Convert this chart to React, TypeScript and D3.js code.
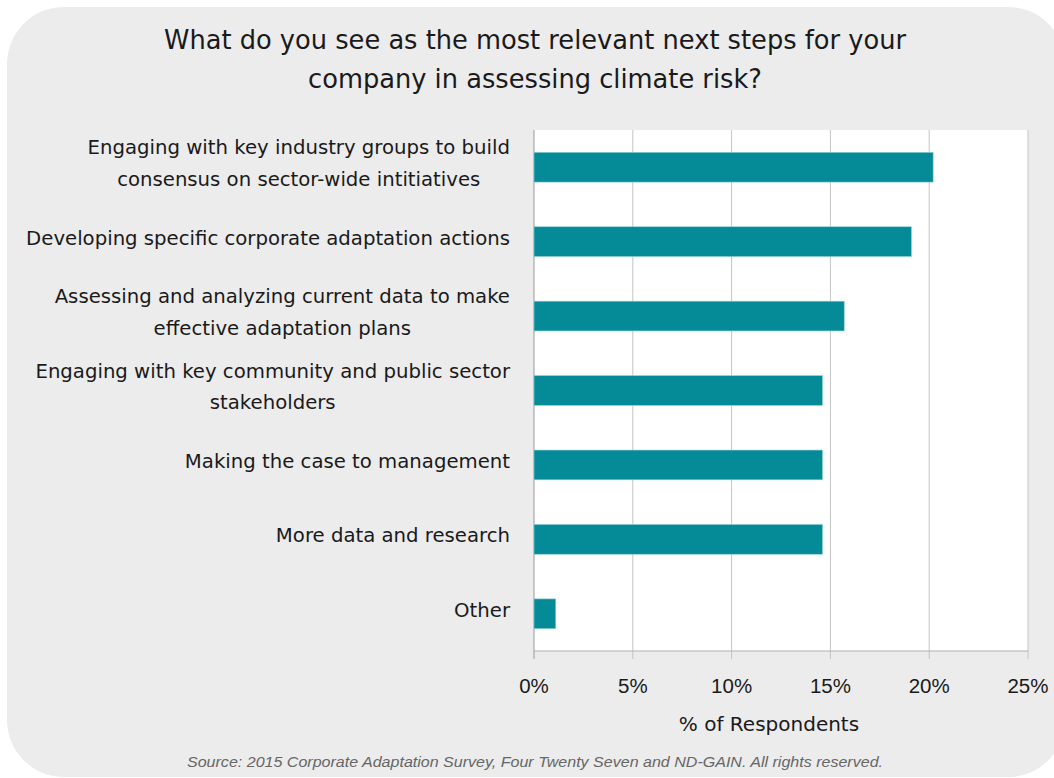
import React from "react";
import * as d3 from "d3";

const categories: string[][] = [
  ["Engaging with key industry groups to build", "consensus on sector-wide intitiatives"],
  ["Developing specific corporate adaptation actions"],
  ["Assessing and analyzing current data to make", "effective adaptation plans"],
  ["Engaging with key community and public sector", "stakeholders"],
  ["Making the case to management"],
  ["More data and research"],
  ["Other"],
];
const values: number[] = [20.2, 19.1, 15.7, 14.6, 14.6, 14.6, 1.1];
const ticks: number[] = [0, 5, 10, 15, 20, 25];
const titleLines: string[] = [
  "What do you see as the most relevant next steps for your",
  "company in assessing climate risk?",
];
const xTitle = "% of Respondents";
const source = "Source: 2015 Corporate Adaptation Survey, Four Twenty Seven and ND-GAIN. All rights reserved.";

const W = 1054, H = 778;
const left = 534, right = 1028, top = 130, bottom = 651;

export default function App() {
  const x = d3.scaleLinear().domain([0, 25]).range([left, right]);
  const y = d3.scaleBand<number>().domain(d3.range(categories.length)).range([top, bottom]).paddingInner(0.6).paddingOuter(0.3);
  const band = d3.scaleBand<number>().domain(d3.range(categories.length)).range([top, bottom]);
  const font = "'DejaVu Sans', sans-serif";
  return (
    <svg width={W} height={H} style={{ position: "absolute", left: 0, top: 0 }}>
      <rect x={7} y={7} width={1058} height={770} rx={57} ry={57} fill="#ececec" />
      <rect x={left} y={top} width={right - left} height={bottom - top} fill="#ffffff" />
      {ticks.map((t) => (
        <line key={t} x1={x(t)} x2={x(t)} y1={top} y2={bottom + 8} stroke={t === 0 ? "#999" : "#c4c4c4"} strokeWidth={1} />
      ))}
      <line x1={left} x2={right} y1={bottom} y2={bottom} stroke="#b0b0b0" strokeWidth={1} />
      {values.map((v, i) => (
        <rect key={i} x={x(0)} y={y(i)} width={x(v) - x(0)} height={y.bandwidth()} fill="#058a97" stroke="#8fcfd6" strokeWidth={0.6} />
      ))}
      {categories.map((lines, i) => {
        const cy = (band(i) as number) + band.bandwidth() / 2 - 4;
        const lh = 31.5;
        return (
          <text key={i} fontFamily={font} fontSize={19.7} fill="#1a1a1a" textAnchor="middle">
            {lines.map((l, j) => (
              <tspan key={j} x={0} y={cy + (j - (lines.length - 1) / 2) * lh} dy="0.35em" className="lbl">{l}</tspan>
            ))}
          </text>
        );
      })}
      {ticks.map((t) => (
        <text key={t} x={x(t)} y={693} textAnchor="middle" fontFamily="'Liberation Sans', Arial, sans-serif" fontSize={20.5} fill="#1a1a1a">{t}%</text>
      ))}
      <text x={769} y={731} textAnchor="middle" fontFamily={font} fontSize={20} fill="#1a1a1a">{xTitle}</text>
      {titleLines.map((l, i) => (
        <text key={i} x={535} y={49 + i * 39} textAnchor="middle" fontFamily={font} fontSize={25.7} fill="#1a1a1a">{l}</text>
      ))}
      <text x={535} y={767} textAnchor="middle" fontFamily="'Liberation Sans Narrow', 'Liberation Sans', sans-serif" fontStyle="italic" fontSize={15} textLength={696} lengthAdjust="spacingAndGlyphs" fill="#666">{source}</text>
      <LabelFixer />
    </svg>
  );
}

function LabelFixer() {
  const ref = React.useRef<SVGGElement>(null);
  React.useLayoutEffect(() => {
    const svg = ref.current?.ownerSVGElement;
    if (!svg) return;
    // right-align each label block at x=510, lines centered within block
    svg.querySelectorAll("text").forEach((t) => {
      const spans = t.querySelectorAll("tspan.lbl");
      if (!spans.length) return;
      let maxW = 0;
      spans.forEach((s) => { maxW = Math.max(maxW, (s as SVGTextContentElement).getComputedTextLength()); });
      const cx = 510 - maxW / 2;
      spans.forEach((s) => s.setAttribute("x", String(cx)));
    });
  }, []);
  return <g ref={ref} />;
}
